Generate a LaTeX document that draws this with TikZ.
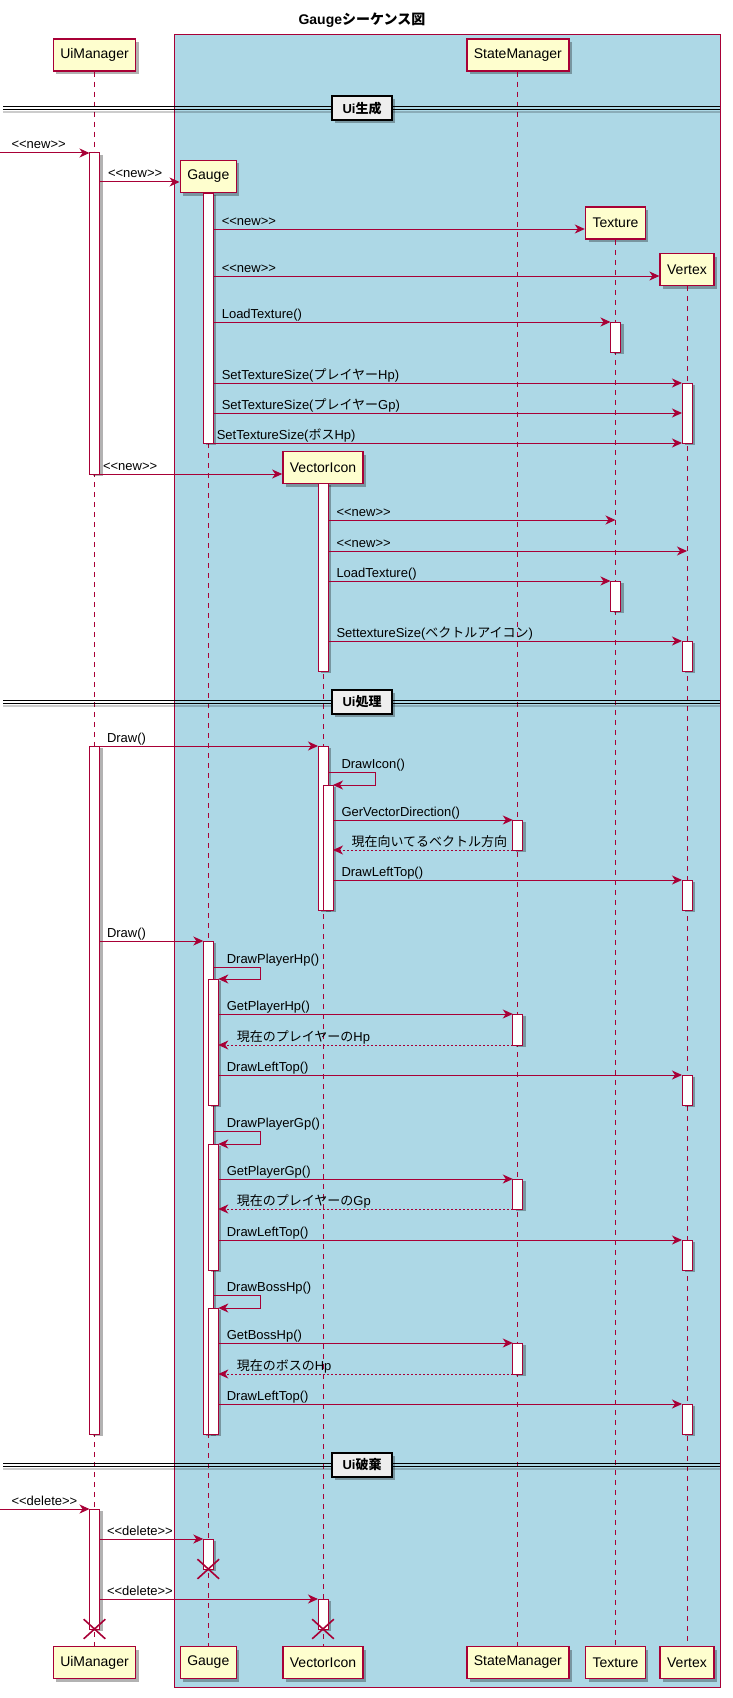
\documentclass[tikz,border=0pt]{standalone}
\usepackage{fontspec}
\setmainfont{Liberation Sans}
\newfontfamily\jp{Noto Sans CJK JP}
\usepackage{xcolor}
\usepackage{tikz}
\usetikzlibrary{arrows.meta,positioning,shadows,shapes.misc}

\definecolor{umlred}{HTML}{A80036}
\definecolor{umlyellow}{HTML}{FEFECE}
\definecolor{umlblue}{HTML}{ADD8E6}
\definecolor{umlgrey}{HTML}{EEEEEE}

\newdimen\pxu
\pxu=0.75pt

% activation bar: name, x, top, bottom
\newcommand{\actbar}[4]{%
	\node[actbar, minimum height={(#4-#3)*\pxu}] (#1) at (#2,{(#3+#4)/2}) {};}
% message: [label shift], from, to, row, label
\newcommand{\callmsg}[5][8]{%
	\path (0,#4) coordinate (row);
	\draw[msg] (#2 |- row) -- node[lbl, pos=0, xshift=#1\pxu] {#5} (#3 |- row);}
% message to itself: from, to, top row, bottom row, label
\newcommand{\selfmsg}[5]{%
	\path (0,#3) coordinate (rowa) (0,#4) coordinate (rowb);
	\draw[msg] (#1 |- rowa) -- node[lbl, pos=0, xshift=13\pxu] {#5} ++(47,0) |- (#2 |- rowb);}
% answer: from, to, row, label
\newcommand{\retmsg}[4]{%
	\path (0,#3) coordinate (row);
	\draw[msg, ret] (#1 |- row) -- node[lbl, pos=1, xshift=18\pxu] {#4} (#2 |- row);}
% separator: name, row, label
\newcommand{\divider}[3]{%
	\coordinate (#1L) at (3,#2);
	\coordinate (#1R) at (720,#2);
	\draw[divshadow] ([yshift=-4\pxu]#1L) -- ([yshift=-4\pxu]#1R);
	\draw[divline] ([yshift=1.5\pxu]#1L) -- ([yshift=1.5\pxu]#1R);
	\draw[divline] ([yshift=-1.5\pxu]#1L) -- ([yshift=-1.5\pxu]#1R);
	\node[divlabel] (#1) at (362,#2) {#3};}

\begin{document}
\begin{tikzpicture}
	[x=0.75pt, y=-0.75pt,
		% STYLES
		% the participants, drawn at the top and at the bottom
		actor/.style={rectangle, draw=umlred, fill=umlyellow, line width=1.5\pxu,
				minimum height=32\pxu, inner xsep=7\pxu, inner ysep=0pt,
				font=\fontsize{10.5}{12}\selectfont,
				drop shadow={shadow xshift=3\pxu, shadow yshift=-3\pxu, opacity=.3, fill=black}},
		% dashed line below each participant
		lifeline/.style={draw=umlred, line width=1\pxu, dash pattern=on 5\pxu off 5\pxu},
		% white activation bars
		actbar/.style={rectangle, draw=umlred, fill=white, line width=1\pxu,
				minimum width=10\pxu, inner sep=0pt, outer sep=0pt,
				drop shadow={shadow xshift=3\pxu, shadow yshift=-2\pxu, opacity=.3, fill=black}},
		% calls and answers
		msg/.style={draw=umlred, line width=1\pxu,
				-{Stealth[length=7.5pt, width=6.75pt, inset=2.25pt]}},
		ret/.style={dash pattern=on 2\pxu off 2\pxu},
		lbl/.style={anchor=base west, inner sep=0pt, yshift=4\pxu,
				font=\fontsize{9.75}{11.7}\selectfont},
		% end of life
		destroy/.style={cross out, draw=umlred, line width=1.6\pxu,
				minimum width=20\pxu, minimum height=18\pxu, inner sep=0pt},
		% separators
		divline/.style={draw=black, line width=1\pxu},
		divshadow/.style={draw=black, opacity=.2, line width=2\pxu},
		divlabel/.style={rectangle, draw=black, fill=umlgrey, line width=2\pxu,
				minimum width=60\pxu, minimum height=24\pxu, inner sep=0pt,
				font=\bfseries\fontsize{9.75}{11.7}\selectfont,
				drop shadow={shadow xshift=3\pxu, shadow yshift=-3\pxu, opacity=.3, fill=black}},
		ttlfont/.style={font=\bfseries\fontsize{10.5}{12}\selectfont}]

	\useasboundingbox (0,0) rectangle (732,1698);

	% box round the drawn objects
	\draw[draw=umlred, fill=umlblue, line width=1\pxu] (174,35) rectangle (720,1687);
	\node[ttlfont] (ttl) at (362,20) {Gauge{\jp シーケンス図}};
	\coordinate (entry) at (0,0);

	% Participants
	\node[actor] (uiT) at (94.5,55) {UiManager};
	\node[actor] (stateT) at (517.8,55) {StateManager};
	\node[actor] (gaugeT) at (208.3,176.5) {Gauge};
	\node[actor] (texT) at (615.5,223) {Texture};
	\node[actor] (vtxT) at (687,269.5) {Vertex};
	\node[actor] (viconT) at (323,467.5) {VectorIcon};

	\node[actor] (uiB) at (94.5,1662.5) {UiManager};
	\node[actor] (gaugeB) at (208.3,1662.5) {Gauge};
	\node[actor] (viconB) at (323,1662.5) {VectorIcon};
	\node[actor] (stateB) at (517.8,1662.5) {StateManager};
	\node[actor] (texB) at (615.5,1662.5) {Texture};
	\node[actor] (vtxB) at (687,1662.5) {Vertex};

	\path[lifeline]
	(uiT) edge (uiB)
	(gaugeT) edge (gaugeB)
	(viconT) edge (viconB)
	(stateT) edge (stateB)
	(texT) edge (texB)
	(vtxT) edge (vtxB);

	% Activations
	\actbar{uiA1}{94.5}{153}{474}
	\actbar{uiA2}{94.5}{746}{1434}
	\actbar{uiA3}{94.5}{1509}{1629}
	\actbar{gA1}{208.3}{193}{443}
	\actbar{gA2}{208.3}{941}{1434}
	\actbar{gN1}{213.3}{979}{1105}
	\actbar{gN2}{213.3}{1144}{1270}
	\actbar{gN3}{213.3}{1308}{1434}
	\actbar{gA3}{208.3}{1539}{1569}
	\actbar{viA1}{323}{483}{671}
	\actbar{viA2}{323}{746}{910}
	\actbar{viN1}{328}{785}{910}
	\actbar{viA3}{323}{1599}{1629}
	\actbar{sA1}{517.8}{820}{850}
	\actbar{sA2}{517.8}{1014}{1045}
	\actbar{sA3}{517.8}{1179}{1209}
	\actbar{sA4}{517.8}{1343}{1374}
	\actbar{tA1}{615.5}{322}{352}
	\actbar{tA2}{615.5}{581}{611}
	\actbar{vxA1}{687}{383}{443}
	\actbar{vxA2}{687}{641}{671}
	\actbar{vxA3}{687}{880}{910}
	\actbar{vxA4}{687}{1075}{1105}
	\actbar{vxA5}{687}{1240}{1270}
	\actbar{vxA6}{687}{1404}{1434}

	%%%%%%%%%%%%%%%
	% Ui creation
	\divider{dvA}{108.5}{Ui{\jp 生成}}
	\callmsg[11]{entry}{uiA1.west}{153}{<{}<new>{}>}
	\callmsg{uiA1.east}{gaugeT.west}{182}{<{}<new>{}>}
	\callmsg{gA1.east}{texT.west}{229}{<{}<new>{}>}
	\callmsg{gA1.east}{vtxT.west}{276}{<{}<new>{}>}
	\callmsg{gA1.east}{tA1.west}{322}{LoadTexture()}
	\callmsg{gA1.east}{vxA1.west}{383}{SetTextureSize({\jp プレイヤー}Hp)}
	\callmsg{gA1.east}{vxA1.west}{413}{SetTextureSize({\jp プレイヤー}Gp)}
	\callmsg[3]{gA1.east}{vxA1.west}{443}{SetTextureSize({\jp ボス}Hp)}
	\callmsg[3]{uiA1.east}{viconT.west}{474}{<{}<new>{}>}
	\callmsg{viA1.east}{texT.south}{520}{<{}<new>{}>}
	\callmsg{viA1.east}{vtxT.south}{551}{<{}<new>{}>}
	\callmsg{viA1.east}{tA2.west}{581}{LoadTexture()}
	\callmsg{viA1.east}{vxA2.west}{641}{SettextureSize({\jp ベクトルアイコン})}

	% Ui work
	\divider{dvB}{702}{Ui{\jp 処理}}
	\callmsg[7]{uiA2.east}{viA2.west}{746}{Draw()}
	\selfmsg{viA2.east}{viN1.east}{772}{785}{DrawIcon()}
	\callmsg{viN1.east}{sA1.west}{820}{GerVectorDirection()}
	\retmsg{sA1.west}{viN1.east}{850}{\jp 現在向いてるベクトル方向}
	\callmsg{viN1.east}{vxA3.west}{880}{DrawLeftTop()}

	\callmsg[7]{uiA2.east}{gA2.west}{941}{Draw()}
	\selfmsg{gA2.east}{gN1.east}{967}{979}{DrawPlayerHp()}
	\callmsg{gN1.east}{sA2.west}{1014}{GetPlayerHp()}
	\retmsg{sA2.west}{gN1.east}{1045}{{\jp 現在のプレイヤーの}Hp}
	\callmsg{gN1.east}{vxA4.west}{1075}{DrawLeftTop()}
	\selfmsg{gA2.east}{gN2.east}{1131}{1144}{DrawPlayerGp()}
	\callmsg{gN2.east}{sA3.west}{1179}{GetPlayerGp()}
	\retmsg{sA3.west}{gN2.east}{1209}{{\jp 現在のプレイヤーの}Gp}
	\callmsg{gN2.east}{vxA5.west}{1240}{DrawLeftTop()}
	\selfmsg{gA2.east}{gN3.east}{1295}{1308}{DrawBossHp()}
	\callmsg{gN3.east}{sA4.west}{1343}{GetBossHp()}
	\retmsg{sA4.west}{gN3.east}{1374}{{\jp 現在のボスの}Hp}
	\callmsg{gN3.east}{vxA6.west}{1404}{DrawLeftTop()}

	% Ui removal
	\divider{dvC}{1465}{Ui{\jp 破棄}}
	\callmsg[11]{entry}{uiA3.west}{1509}{<{}<delete>{}>}
	\callmsg[7]{uiA3.east}{gA3.west}{1539}{<{}<delete>{}>}
	\callmsg[7]{uiA3.east}{viA3.west}{1599}{<{}<delete>{}>}

	\node[destroy] (gX) at (gA3.south) {};
	\node[destroy] (viX) at (viA3.south) {};
	\node[destroy] (uiX) at (uiA3.south) {};

\end{tikzpicture}
\end{document}
